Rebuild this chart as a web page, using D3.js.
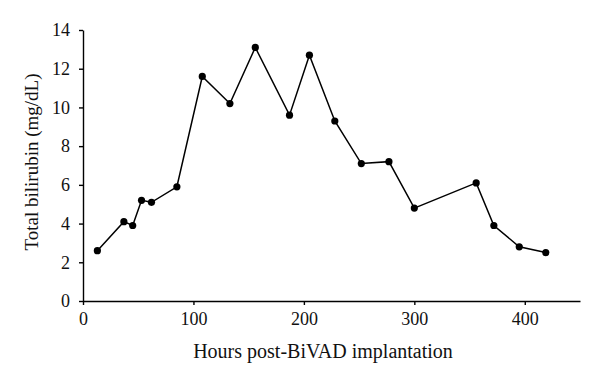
<!DOCTYPE html>
<html>
<head>
<meta charset="utf-8">
<script src="https://cdn.jsdelivr.net/npm/d3@7"></script>
<style>
  body { margin: 0; background: #fff; }
  svg { display: block; }
  .tick text { font-family: "Liberation Serif", "DejaVu Serif", serif; }
</style>
</head>
<body>
<div id="chart"></div>
<script>
// Uren na BiVAD implantatie en de gemeten bilirubine.
const hours = [13, 37, 45, 53, 62, 85, 108, 133, 156, 187, 205, 228, 252, 277, 300, 356, 372, 395, 419];
const bilirubin = [2.6, 4.1, 3.9, 5.2, 5.1, 5.9, 11.6, 10.2, 13.1, 9.6, 12.7, 9.3, 7.1, 7.2, 4.8, 6.1, 3.9, 2.8, 2.5];
const xTicks = [0, 100, 200, 300, 400];
const yTicks = [0, 2, 4, 6, 8, 10, 12, 14];

const width = 600, height = 383;
const margin = { top: 30, right: 20, bottom: 82, left: 83 };

const svg = d3.select("#chart")
  .append("svg")
  .attr("width", width)
  .attr("height", height);

const x = d3.scaleLinear().domain([0, 450]).range([margin.left, width - margin.right]);
const y = d3.scaleLinear().domain([0, 14]).range([height - margin.bottom, margin.top]);

// Assen tekenen.
const xAxis = svg.append("g")
  .attr("transform", "translate(0," + y(0) + ")")
  .call(d3.axisBottom(x).tickValues(xTicks).tickSize(4).tickPadding(7).tickSizeOuter(0));

const yAxis = svg.append("g")
  .attr("transform", "translate(" + x(0) + ",0)")
  .call(d3.axisLeft(y).tickValues(yTicks).tickSize(4).tickPadding(9).tickSizeOuter(0));

[xAxis, yAxis].forEach(function (a) {
  a.selectAll("path, line").attr("stroke", "#000").attr("stroke-width", 1.4);
  a.selectAll("text").attr("fill", "#111").style("font-size", "18px");
});

// Lijn door de meetpunten.
const points = hours.map(function (h, i) { return [h, bilirubin[i]]; });

svg.append("path")
  .datum(points)
  .attr("fill", "none")
  .attr("stroke", "#000")
  .attr("stroke-width", 1.5)
  .attr("d", d3.line().x(function (d) { return x(d[0]); }).y(function (d) { return y(d[1]); }));

svg.selectAll(".dot")
  .data(points)
  .enter()
  .append("circle")
  .attr("class", "dot")
  .attr("cx", function (d) { return x(d[0]); })
  .attr("cy", function (d) { return y(d[1]); })
  .attr("r", 3.6)
  .attr("fill", "#000");

// Astitels.
svg.append("text")
  .attr("x", 323)
  .attr("y", 358)
  .attr("text-anchor", "middle")
  .style("font-family", "Liberation Serif, DejaVu Serif, serif")
  .style("font-size", "20px")
  .attr("fill", "#111")
  .text("Hours post-BiVAD implantation");

svg.append("text")
  .attr("transform", "translate(38," + 162 + ") rotate(-90)")
  .attr("text-anchor", "middle")
  .style("font-family", "Liberation Serif, DejaVu Serif, serif")
  .style("font-size", "19px")
  .attr("fill", "#111")
  .text("Total bilirubin (mg/dL)");
</script>
</body>
</html>
